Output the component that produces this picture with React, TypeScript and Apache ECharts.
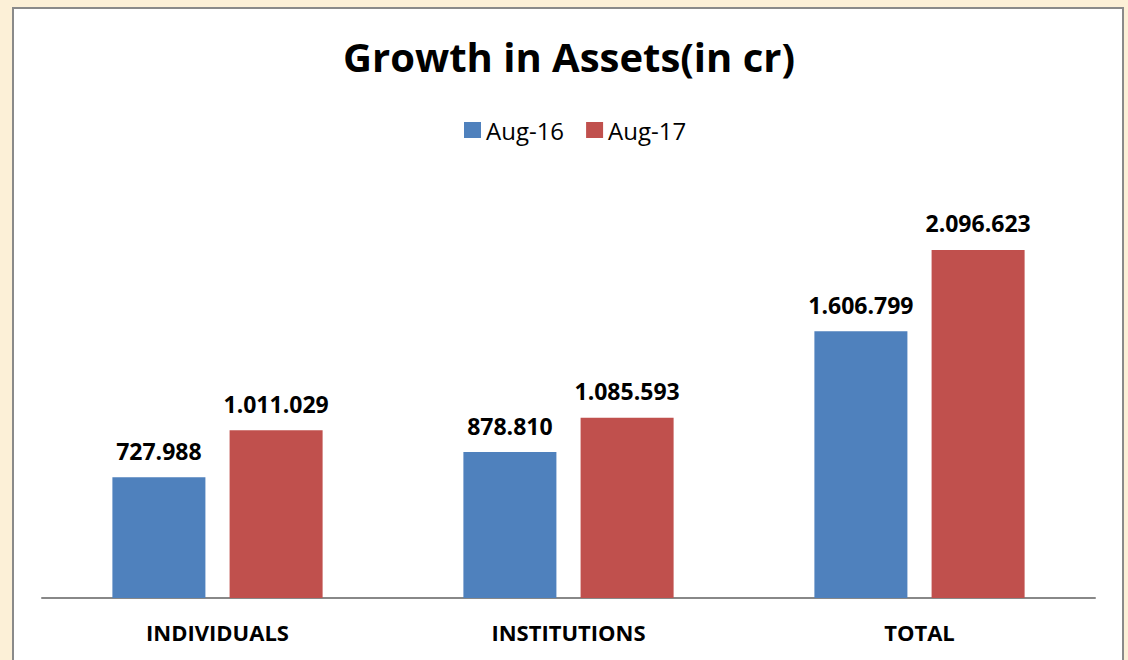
import React, { useEffect, useRef } from "react";
import * as echarts from "echarts";

const categories = ["INDIVIDUALS", "INSTITUTIONS", "TOTAL"];
const seriesNames = ["Aug-16", "Aug-17"];
const aug16 = [727988, 878810, 1606799];
const aug17 = [1011029, 1085593, 2096623];

const fmt = (v: number) => String(Math.round(v)).replace(/\B(?=(\d{3})+(?!\d))/g, ".");

export default function App() {
  const ref = useRef<HTMLDivElement>(null);
  useEffect(() => {
    const chart = echarts.init(ref.current!, null, { renderer: "svg" });
    const font = "'Open Sans', 'Noto Sans', sans-serif";
    const label = {
      show: true,
      position: "top",
      distance: 15,
      fontSize: 23,
      fontWeight: "bold",
      color: "#000",
      fontFamily: font,
      formatter: (p: any) => fmt(p.value),
    };
    chart.setOption({
      animation: false,
      backgroundColor: "#FCF0D7",
      graphic: [
        {
          type: "rect",
          z: -10,
          shape: { x: 13, y: 8, width: 1110, height: 670 },
          style: { fill: "#fff", stroke: "#8a8a8a", lineWidth: 2 },
        },
      ],
      title: {
        text: "Growth in Assets(in cr)",
        left: 338,
        top: 31,
        textStyle: { fontSize: 40, fontWeight: "bold", color: "#000", fontFamily: font },
      },
      legend: {
        top: 113,
        left: 459,
        itemWidth: 17,
        itemHeight: 16,
        itemGap: 22,
        icon: "rect",
        textStyle: { fontSize: 24, color: "#000", fontFamily: font },
        data: seriesNames,
      },
      grid: { left: 42, right: 33, top: 183, bottom: 62 },
      xAxis: {
        type: "category",
        data: categories,
        axisLine: { lineStyle: { color: "#888", width: 2 } },
        axisTick: { show: false },
        axisLabel: { fontSize: 22, fontWeight: "bold", color: "#000", margin: 23, fontFamily: font },
      },
      yAxis: {
        type: "value",
        min: 0,
        max: 2500000,
        show: false,
        splitLine: { show: false },
      },
      series: [
        {
          name: seriesNames[0],
          type: "bar",
          data: aug16,
          barWidth: "26.5%",
          barGap: "26%",
          itemStyle: { color: "#4F81BD" },
          label,
        },
        {
          name: seriesNames[1],
          type: "bar",
          data: aug17,
          barWidth: "26.5%",
          itemStyle: { color: "#C0504D" },
          label,
        },
      ],
    });
    return () => chart.dispose();
  }, []);
  return <div ref={ref} style={{ position: "fixed", left: 0, top: 0, width: 1128, height: 660 }} />;
}
